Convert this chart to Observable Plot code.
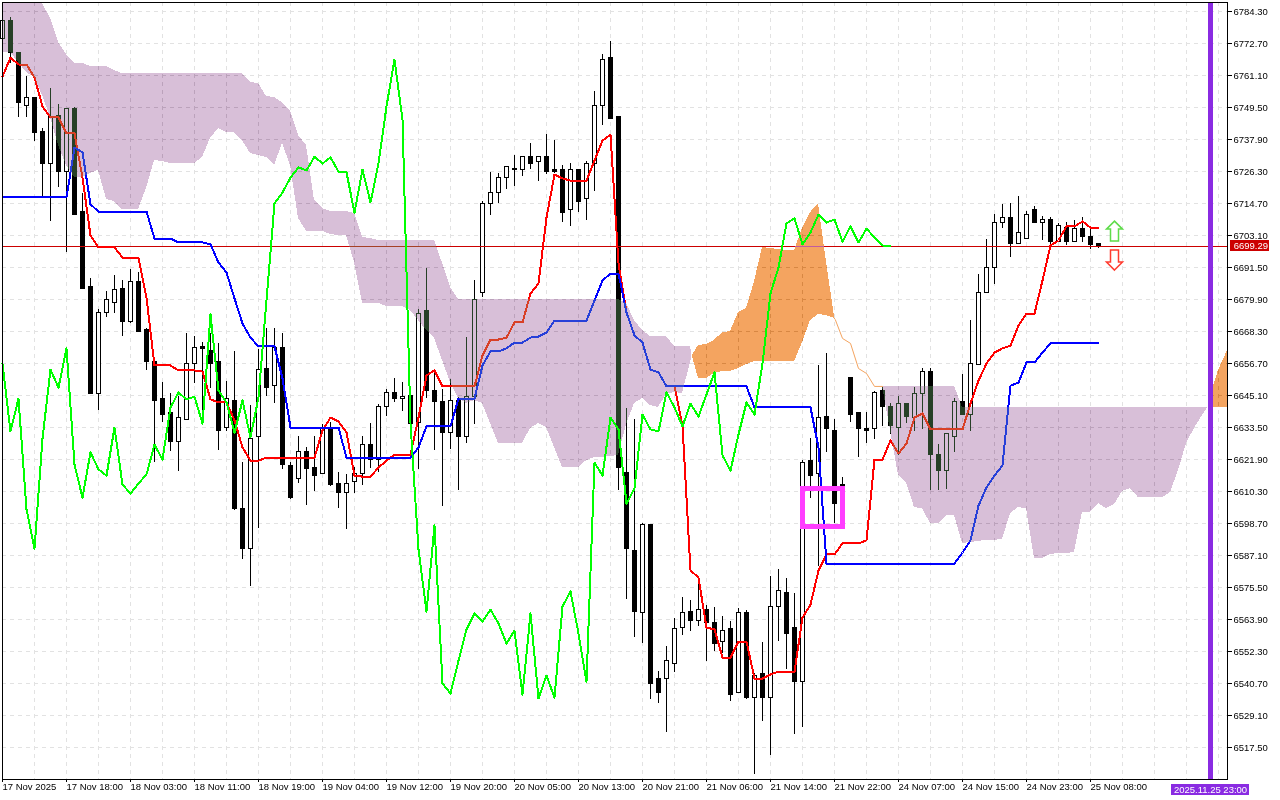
<!DOCTYPE html>
<html>
<head>
<meta charset="utf-8">
<script src="https://cdn.jsdelivr.net/npm/d3@7"></script>
<script src="https://cdn.jsdelivr.net/npm/@observablehq/plot@0.6"></script>
<style>
html,body{margin:0;padding:0;background:#fff;overflow:hidden}
svg{display:block}
</style>
</head>
<body>
<script>
const priceTicks = [6784.3,6772.7,6761.1,6749.5,6737.9,6726.3,6714.7,6703.1,6691.5,6679.9,6668.3,6656.7,6645.1,6633.5,6621.9,6610.3,6598.7,6587.1,6575.5,6563.9,6552.3,6540.7,6529.1,6517.5];
const timeTickLabels = ["17 Nov 2025","17 Nov 18:00","18 Nov 03:00","18 Nov 11:00","18 Nov 19:00","19 Nov 04:00","19 Nov 12:00","19 Nov 20:00","20 Nov 05:00","20 Nov 13:00","20 Nov 21:00","21 Nov 06:00","21 Nov 14:00","21 Nov 22:00","24 Nov 07:00","24 Nov 15:00","24 Nov 23:00","25 Nov 08:00"];

const open = [
6774.5,6781.0,6769.1,6750.2,6753.1,6740.8,6729.2,6746.6,6726.0,6748.8,
6711.8,6684.6,6645.8,6675.2,6678.8,6683.9,6671.6,6686.1,6668.7,6657.1,
6644.0,6638.6,6628.4,6636.4,6656.7,6662.7,6661.1,6657.1,6633.2,6643.3,
6604.1,6589.6,6629.9,6654.9,6648.4,6662.5,6619.4,6615.0,6624.5,6619.0,
6616.8,6633.5,6613.2,6609.9,6613.6,6616.5,6627.3,6621.9,6641.1,6646.2,
6643.7,6645.1,6635.3,6675.6,6646.6,6642.6,6631.7,6643.3,6629.9,6644.4,
6682.1,6714.7,6718.7,6724.1,6727.4,6727.0,6731.7,6729.6,6731.4,6727.0,
6726.7,6712.2,6727.0,6716.2,6729.2,6749.9,6767.3,6745.9,6617.2,6588.9,
6566.4,6598.0,6542.2,6542.2,6547.9,6560.7,6566.8,6563.2,6567.5,6562.5,
6555.6,6560.3,6537.4,6566.1,6535.6,6544.0,6535.6,6568.3,6573.7,6561.0,
6541.1,6621.5,6616.8,6637.5,6632.4,6612.5,6651.3,6638.6,6632.8,6632.8,
6646.6,6640.8,6633.5,6642.2,6637.1,6645.8,6653.5,6623.7,6617.6,6629.9,
6642.9,6637.9,6656.3,6682.4,6691.5,6707.5,6709.3,6700.2,6702.0,6712.2,
6707.8,6708.9,6700.9,6706.0,6700.9,6705.3,6702.7,6700.0];
const high = [
6781.8,6782.1,6769.5,6760.7,6753.1,6741.9,6756.4,6750.6,6749.1,6749.5,
6718.3,6687.5,6676.3,6682.8,6688.6,6686.8,6690.8,6689.7,6669.4,6657.1,
6649.8,6645.8,6644.7,6667.6,6666.5,6664.3,6667.6,6664.0,6650.2,6661.1,
6620.8,6641.5,6661.8,6669.4,6669.4,6667.6,6620.8,6630.2,6626.3,6630.2,
6634.6,6635.3,6617.2,6616.5,6619.0,6630.2,6634.9,6641.8,6647.3,6651.3,
6649.8,6647.6,6676.3,6691.2,6654.2,6647.3,6650.9,6644.4,6666.1,6686.8,
6715.4,6726.0,6725.6,6728.1,6732.1,6731.7,6736.5,6731.7,6739.7,6737.5,
6728.5,6729.2,6727.0,6729.9,6755.3,6768.7,6773.4,6745.9,6640.4,6636.4,
6598.7,6598.0,6545.0,6554.1,6564.3,6571.9,6570.8,6577.0,6569.0,6568.3,
6565.0,6563.2,6567.9,6567.2,6544.3,6555.6,6579.5,6582.0,6578.8,6573.3,
6621.5,6629.5,6656.0,6660.3,6636.4,6615.4,6651.3,6638.6,6638.9,6646.6,
6648.0,6642.2,6644.7,6642.2,6648.0,6654.9,6654.9,6627.3,6631.3,6644.0,
6652.7,6672.3,6689.0,6701.7,6710.7,6714.4,6714.7,6717.2,6711.8,6713.6,
6710.0,6709.6,6707.5,6707.8,6708.6,6709.6,6706.0,6700.0];
const low = [
6774.5,6765.5,6745.9,6745.9,6737.2,6716.5,6708.2,6720.5,6697.0,6710.4,
6683.5,6645.8,6639.7,6673.4,6674.8,6666.5,6671.2,6668.3,6654.2,6620.8,
6635.3,6624.8,6617.6,6636.4,6649.5,6635.3,6647.6,6625.2,6632.1,6603.4,
6585.7,6575.9,6596.9,6644.7,6642.2,6618.3,6607.4,6613.2,6605.2,6610.3,
6616.8,6612.1,6604.1,6596.5,6609.6,6612.5,6618.7,6617.2,6637.5,6642.6,
6639.3,6634.2,6618.3,6644.0,6625.2,6604.9,6625.5,6610.7,6627.7,6634.6,
6680.6,6710.4,6714.7,6719.8,6720.9,6724.5,6727.0,6722.7,6725.2,6725.6,
6707.8,6706.4,6711.4,6708.6,6719.1,6743.0,6745.2,6610.7,6571.2,6557.4,
6555.2,6534.9,6533.5,6522.9,6544.7,6558.1,6559.6,6561.4,6548.7,6552.3,
6551.6,6534.2,6537.1,6534.9,6507.7,6526.9,6514.6,6555.9,6545.8,6522.2,
6524.8,6607.8,6583.1,6624.5,6598.7,6610.7,6635.3,6622.6,6627.7,6629.2,
6633.9,6631.0,6623.4,6634.9,6632.1,6632.8,6610.7,6610.7,6611.0,6624.5,
6638.2,6632.1,6656.3,6682.4,6685.3,6705.6,6695.1,6700.2,6701.7,6707.8,
6701.3,6699.5,6700.9,6699.5,6700.6,6700.6,6698.0,6698.4];
const close = [
6781.0,6769.1,6751.0,6753.1,6740.4,6729.2,6745.9,6726.0,6748.8,6710.7,
6683.9,6645.8,6675.2,6679.6,6683.5,6671.6,6686.1,6668.3,6657.1,6643.3,
6637.9,6628.4,6637.1,6656.7,6662.5,6662.1,6656.7,6632.1,6644.0,6603.8,
6589.6,6629.5,6654.5,6648.0,6662.2,6620.1,6608.1,6624.5,6618.3,6616.1,
6633.5,6612.8,6609.6,6613.2,6616.5,6627.3,6621.9,6640.8,6646.2,6643.7,
6644.7,6634.9,6674.5,6646.9,6642.6,6631.7,6643.3,6629.9,6644.4,6679.6,
6714.7,6718.7,6724.1,6727.8,6726.7,6731.7,6729.2,6731.4,6726.3,6726.0,
6711.4,6727.0,6715.1,6729.2,6749.9,6766.9,6745.2,6618.7,6589.3,6566.8,
6598.0,6540.7,6537.1,6549.0,6560.3,6566.1,6563.2,6567.5,6562.5,6555.2,
6559.9,6536.7,6566.1,6535.3,6543.6,6535.6,6568.6,6574.1,6558.8,6541.4,
6620.8,6616.1,6637.1,6632.8,6605.9,6611.4,6638.2,6632.8,6632.1,6646.2,
6640.8,6633.9,6642.2,6637.5,6645.5,6653.5,6623.4,6617.9,6631.0,6642.6,
6638.2,6656.7,6682.1,6691.5,6707.5,6709.3,6699.9,6704.2,6710.7,6707.8,
6708.9,6700.9,6706.4,6700.6,6705.6,6702.4,6699.5,6699.29];

const tenkan = [
6760.7,6767.6,6765.1,6765.1,6760.4,6749.9,6745.9,6745.9,6740.1,6740.1,
6724.1,6703.1,6698.8,6698.8,6698.8,6695.1,6695.1,6695.1,6680.6,6656.0,
6656.0,6656.0,6654.2,6654.2,6654.2,6653.8,6643.7,6642.6,6642.6,6636.1,
6626.3,6621.5,6621.5,6622.6,6622.6,6622.6,6622.6,6622.6,6622.6,6622.6,
6632.4,6637.1,6635.7,6631.7,6616.1,6615.7,6615.7,6619.0,6621.5,6623.7,
6623.7,6623.7,6637.1,6652.4,6654.2,6648.4,6648.4,6648.4,6648.4,6648.4,
6659.6,6665.4,6665.4,6666.1,6671.6,6671.6,6682.1,6685.7,6709.6,6725.2,
6723.8,6723.0,6723.0,6723.0,6730.3,6737.5,6739.7,6693.0,6675.2,6666.9,
6664.3,6654.5,6653.5,6648.4,6648.4,6634.2,6581.7,6579.1,6561.0,6560.3,
6550.1,6550.1,6555.9,6555.9,6542.5,6542.5,6544.0,6545.0,6545.0,6545.0,
6564.6,6569.3,6581.7,6587.5,6587.5,6591.5,6591.5,6591.5,6592.6,6621.9,
6621.9,6628.8,6624.1,6627.7,6637.1,6638.6,6632.8,6632.8,6632.8,6632.8,
6632.8,6642.2,6650.5,6656.7,6660.7,6662.2,6663.2,6670.5,6674.8,6674.8,
6686.8,6699.5,6701.3,6706.4,6706.4,6708.2,6706.0,6706.0];
const kijun = [
6716.9,6716.9,6716.9,6716.9,6716.9,6716.9,6716.9,6716.9,6716.9,6735.0,
6733.2,6714.4,6711.8,6711.8,6711.8,6711.8,6711.8,6711.8,6711.8,6702.0,
6702.0,6702.0,6700.6,6700.6,6700.6,6700.6,6699.9,6693.3,6689.7,6680.3,
6671.2,6666.1,6662.9,6662.9,6662.9,6651.3,6633.5,6633.5,6633.5,6633.5,
6633.5,6633.5,6633.5,6622.6,6622.6,6622.6,6622.6,6622.6,6622.6,6622.6,
6622.6,6622.6,6626.3,6633.9,6633.9,6633.9,6633.9,6644.0,6644.0,6644.0,
6656.0,6661.1,6661.1,6662.2,6664.3,6664.3,6666.1,6666.5,6667.9,6672.3,
6672.3,6672.3,6672.3,6672.3,6679.6,6686.8,6689.3,6689.3,6675.2,6666.9,
6664.3,6654.5,6653.5,6648.4,6648.4,6648.4,6648.4,6648.4,6648.4,6648.4,
6648.4,6648.4,6648.4,6648.4,6640.8,6640.8,6640.8,6640.8,6640.8,6640.8,
6640.8,6640.8,6626.3,6584.2,6584.2,6584.2,6584.2,6584.2,6584.2,6584.2,
6584.2,6584.2,6584.2,6584.2,6584.2,6584.2,6584.2,6584.2,6584.2,6584.2,
6588.2,6592.6,6605.2,6611.8,6616.1,6619.7,6648.7,6649.8,6657.1,6657.1,
6660.7,6664.0,6664.0,6664.0,6664.0,6664.0,6664.0,6664.0];
const chikou = [
6656.7,6632.1,6644.0,6603.8,
6589.6,6629.5,6654.5,6648.0,6662.2,6620.1,6608.1,6624.5,6618.3,6616.1,
6633.5,6612.8,6609.6,6613.2,6616.5,6627.3,6621.9,6640.8,6646.2,6643.7,
6644.7,6634.9,6674.5,6646.9,6642.6,6631.7,6643.3,6629.9,6644.4,6679.6,
6714.7,6718.7,6724.1,6727.8,6726.7,6731.7,6729.2,6731.4,6726.3,6726.0,
6711.4,6727.0,6715.1,6729.2,6749.9,6766.9,6745.2,6635.0,6589.3,6566.8,
6598.0,6540.7,6537.1,6549.0,6560.3,6566.1,6563.2,6567.5,6562.5,6555.2,
6559.9,6536.7,6566.1,6535.3,6543.6,6535.6,6568.6,6574.1,6558.8,6541.4,
6620.8,6616.1,6637.1,6632.8,6605.9,6611.4,6638.2,6632.8,6632.1,6646.2,
6640.8,6633.9,6642.2,6637.5,6645.5,6653.5,6623.4,6617.9,6631.0,6642.6,
6638.2,6656.7,6682.1,6691.5,6707.5,6709.3,6699.9,6704.2,6710.7,6707.8,
6708.9,6700.9,6706.4,6700.6,6705.6,6702.4,6699.5,6699.29];

const cloud1Bar = [...d3.range(87), 86.2];
const cloud1Top = [
6787.2,6787.2,6787.2,6787.2,6787.2,6787.2,6781.8,6773.1,6768.7,6765.5,
6765.5,6764.4,6764.4,6764.4,6762.9,6761.8,6761.8,6761.8,6761.8,6761.8,
6761.8,6761.8,6761.8,6761.8,6761.8,6761.8,6761.8,6761.8,6761.8,6761.8,
6761.8,6758.6,6758.2,6753.5,6753.1,6751.3,6748.4,6739.4,6735.7,6715.8,
6712.9,6711.8,6711.8,6711.8,6711.1,6702.4,6702.0,6701.3,6701.3,6701.3,
6701.3,6701.3,6701.3,6701.3,6701.3,6693.0,6684.3,6679.9,6679.9,6679.9,
6679.9,6679.9,6679.9,6679.9,6679.9,6679.9,6679.9,6679.9,6679.9,6679.9,
6679.9,6679.9,6679.9,6679.9,6679.9,6679.9,6679.9,6679.9,6678.5,6672.3,
6668.7,6666.5,6666.5,6666.5,6662.9,6662.9,6662.9,6659.6];
const cloud1Bot = [
6769.5,6769.5,6765.8,6762.2,6760.4,6753.9,6745.9,6735.7,6728.5,6724.1,
6724.1,6725.6,6726.7,6716.2,6715.4,6712.5,6712.5,6712.5,6720.2,6730.3,
6729.9,6729.2,6729.2,6729.2,6729.2,6731.4,6738.3,6741.9,6740.4,6740.4,
6737.5,6732.8,6732.1,6731.4,6728.5,6736.5,6728.5,6709.3,6704.6,6704.6,
6704.6,6703.5,6703.1,6703.1,6693.3,6678.5,6678.5,6678.5,6677.4,6677.4,
6677.4,6675.9,6672.3,6668.7,6665.8,6657.8,6649.8,6644.0,6642.2,6643.3,
6642.2,6634.9,6627.7,6627.7,6627.7,6627.7,6633.2,6634.9,6633.5,6626.3,
6619.0,6619.0,6619.0,6621.5,6622.6,6622.6,6623.0,6623.4,6634.6,6642.2,
6644.0,6641.5,6640.8,6645.5,6646.2,6645.8,6657.1,6659.6];

const orangeBar = [86.2,87,88,89,90,91,92,93,94,95,96,97,98,99,100,101,102,103,104,104.1];
const orangeTop = [6659.6,6663.2,6663.6,6665.1,6667.9,6668.3,6675.2,6676.6,6686.4,6698.8,6698.4,6698.0,6697.7,6697.7,6705.6,6711.4,6714.7,6693.3,6673.7,6672.6];
const orangeBot = [6659.6,6651.3,6651.3,6653.1,6653.8,6653.8,6654.9,6656.3,6657.4,6657.4,6657.4,6657.4,6657.4,6657.4,6664.3,6672.3,6674.5,6674.1,6673.0,6672.6];

const thinBar = [104.1,105,106,107,108,109,110];
const thinSpan = [6672.6,6665.8,6664.0,6654.9,6653.1,6648.4,6648.4];

const cloud2Bar = [...d3.range(110,151), 150.7];
const cloud2Top = [
6648.4,6648.4,6648.4,6648.4,6648.4,6648.4,6648.4,6648.4,6648.4,6648.4,
6640.8,6640.8,6640.8,6640.8,6640.8,6640.8,6640.8,6640.8,6640.8,6640.8,
6640.8,6640.8,6640.8,6640.8,6640.8,6640.8,6640.8,6640.8,6640.8,6640.8,
6640.8,6640.8,6640.8,6640.8,6640.8,6640.8,6640.8,6640.8,6640.8,6640.8,6640.8,6640.8];
const cloud2Bot = [
6648.4,6632.4,6616.1,6613.6,6604.5,6604.1,6598.7,6598.7,6601.6,6601.6,
6591.5,6591.8,6592.2,6592.6,6592.6,6592.9,6602.3,6604.5,6604.1,6586.0,
6586.0,6587.5,6587.8,6587.8,6588.2,6602.7,6602.7,6605.9,6604.1,6605.6,
6610.3,6611.4,6608.1,6608.1,6608.1,6608.1,6609.9,6617.9,6627.7,6633.2,6637.9,6640.8];

const orange2Bar = [150.7,151,152,153.125];
const orange2Top = [6640.8,6645.1,6654.2,6661.4];
const orange2Bot = [6640.8,6640.8,6640.8,6640.8];

const lastPrice = 6699.29;
const lastPriceLabel = "6699.29";
const cursorBar = 151;
const cursorLabel = "2025.11.25 23:00";
const boxBars = [100, 105];
const boxPrices = [6611.4, 6597.6];
const arrowBar = 139;
const arrowUpPrice = 6704.7;
const arrowDownPrice = 6694.2;

const font = "'Liberation Sans', Arial, sans-serif";
const fontSize = 9.5;
const bars = d3.range(open.length);
const xGrid = d3.range(0, 153, 4);
const xLabelBars = timeTickLabels.map((_, k) => k * 8);

const zip = (x, a, b) => x.map((v, k) => ({x: v, y1: a[k], y2: b[k]}));
const xorThistle = "#274027"; // |white - this| = thistle, as the terminal's XOR fill
const xorOrange = "#0b5b9f";  // |white - this| = sandy brown

const arrowSymbol = (dir) => ({
  draw(c) {
    const pts = [[0,-10],[8,-2],[4,-2],[4,10],[-4,10],[-4,-2],[-8,-2]];
    pts.forEach(([a,b], k) => k ? c.lineTo(a, b*dir) : c.moveTo(a, b*dir));
    c.closePath();
  }
});
const crisp = {shapeRendering: "crispEdges"};

const chart = Plot.plot({
  width: 1280, height: 800,
  marginLeft: 2, marginRight: 53, marginTop: 2, marginBottom: 21,
  style: {background: "#fff", fontFamily: font, fontSize: fontSize + "px", color: "#000"},
  x: {type: "linear", domain: [0, 153.125], axis: null},
  y: {type: "linear", domain: [6505.9125, 6787.575], axis: null},
  marks: [
    Plot.ruleY(priceTicks, {stroke: "#e2e2e2", strokeDasharray: "4 4", ...crisp}),
    Plot.ruleX(xGrid, {stroke: "#e2e2e2", strokeDasharray: "4 4", ...crisp}),
    Plot.ruleX(bars, {x: i => i, y1: i => low[i], y2: i => high[i], stroke: "#000", ...crisp}),
    Plot.rect(bars, {
      x1: i => i - 0.25, x2: i => i + 0.25,
      y1: i => open[i], y2: i => close[i],
      fill: i => close[i] >= open[i] ? "#fff" : "#000",
      stroke: "#000", ...crisp
    }),
    Plot.ruleY([lastPrice], {stroke: "#cc0000", ...crisp}),
    Plot.lineY(tenkan, {x: (d, i) => i, y: d => d, stroke: "#ff0000", strokeWidth: 2, ...crisp}),
    Plot.lineY(kijun, {x: (d, i) => i, y: d => d, stroke: "#0000ff", strokeWidth: 2, ...crisp}),
    Plot.areaY(zip(cloud1Bar, cloud1Top, cloud1Bot), {x: "x", y1: "y1", y2: "y2", fill: xorThistle, mixBlendMode: "difference", ...crisp}),
    Plot.areaY(zip(cloud2Bar, cloud2Top, cloud2Bot), {x: "x", y1: "y1", y2: "y2", fill: xorThistle, mixBlendMode: "difference", ...crisp}),
    Plot.areaY(zip(orangeBar, orangeTop, orangeBot), {x: "x", y1: "y1", y2: "y2", fill: xorOrange, mixBlendMode: "difference", ...crisp}),
    Plot.areaY(zip(orange2Bar, orange2Top, orange2Bot), {x: "x", y1: "y1", y2: "y2", fill: xorOrange, mixBlendMode: "difference", ...crisp}),
    Plot.lineY(thinSpan, {x: (d, i) => thinBar[i], y: d => d, stroke: "#f4a460", strokeWidth: 1}),
    Plot.lineY(chikou, {x: (d, i) => i, y: d => d, stroke: "#00ff00", strokeWidth: 2, ...crisp}),
    Plot.rect([0], {x1: boxBars[0], x2: boxBars[1], y1: boxPrices[0], y2: boxPrices[1], fill: "none", stroke: "#ff3dff", strokeWidth: 5, ...crisp}),
    Plot.dot([0], {x: arrowBar, y: arrowUpPrice, r: 11.28, symbol: arrowSymbol(1), fill: "#fff", stroke: "#5edc4a", strokeWidth: 1.5}),
    Plot.dot([0], {x: arrowBar, y: arrowDownPrice, r: 11.28, symbol: arrowSymbol(-1), fill: "#fff", stroke: "#ff3b2f", strokeWidth: 1.5}),
    Plot.ruleX([cursorBar], {stroke: "#8a2be2", strokeWidth: 5, ...crisp}),
    Plot.frame({stroke: "#000", ...crisp}),
    Plot.axisY(priceTicks, {anchor: "right", tickSize: 4, tickPadding: 2, tickFormat: d => d.toFixed(2), fontSize, label: null, stroke: "#000", fill: "#000", ...crisp}),
    Plot.axisX(xLabelBars, {anchor: "bottom", tickSize: 3, tickPadding: 1, tickFormat: (d) => timeTickLabels[d / 8], fontSize, textAnchor: "start", label: null, lineAnchor: "top", fill: "#000"}),
    Plot.rect([0], {x1: 153.5, x2: 158.4, y1: lastPrice - 2, y2: lastPrice + 2, fill: "#cc0000", ...crisp}),
    Plot.text([lastPriceLabel], {x: 153.9, y: lastPrice, text: d => d, fill: "#fff", textAnchor: "start", fontSize}),
    Plot.rect([0], {x1: 146.1, x2: 155.9, y1: 6500.1, y2: 6504.1, fill: "#8a2be2", ...crisp}),
    Plot.text([cursorLabel], {x: cursorBar, y: 6502.1, text: d => d, fill: "#fff", textAnchor: "middle", fontSize})
  ]
});
document.body.append(chart);
</script>
</body>
</html>
